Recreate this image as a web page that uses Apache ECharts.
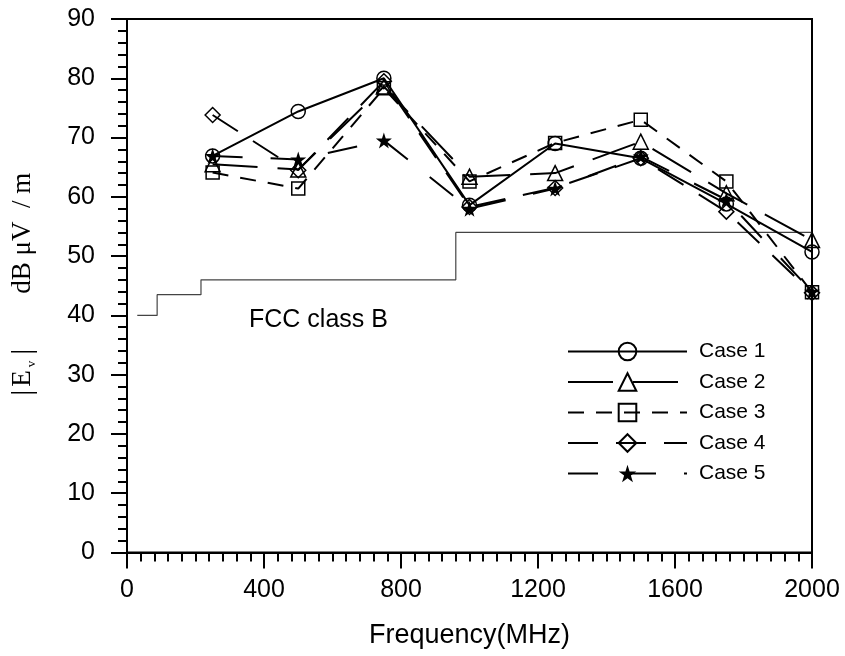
<!DOCTYPE html>
<html>
<head>
<meta charset="utf-8">
<script src="https://cdn.jsdelivr.net/npm/echarts@6/dist/echarts.min.js"></script>
<style>html,body{margin:0;padding:0;background:#fff;}#c{width:845px;height:656px;}</style>
</head>
<body>
<div id="c"></div>
<script>
const freqs = [250, 500, 750, 1000, 1250, 1500, 1750, 2000];
const case1 = [66.9, 74.4, 80.0, 58.6, 69.0, 66.5, 58.8, 50.7];
const case2 = [65.5, 64.6, 78.6, 63.4, 64.0, 69.3, 60.6, 52.7];
const case3 = [64.1, 61.4, 78.3, 62.6, 69.1, 73.0, 62.6, 43.9];
const case4 = [73.8, 64.5, 79.5, 58.3, 61.5, 66.5, 57.5, 43.8];
const case5 = [66.9, 66.3, 69.5, 58.0, 61.4, 66.8, 59.5, 44.0];
const fccFreq = [30, 88, 216, 960, 2000];
const fccLevel = [40, 43.5, 46, 54, 54];
const xTicks = [0, 400, 800, 1200, 1600, 2000];
const yTicks = [0, 10, 20, 30, 40, 50, 60, 70, 80, 90];

const pair = (xs, ys) => xs.map((x, i) => [x, ys[i]]);
const STAR = 'path://M50,0 L61.2,34.5 L97.6,34.5 L68.2,55.9 L79.4,90.5 L50,69.1 L20.6,90.5 L31.8,55.9 L2.4,34.5 L38.8,34.5 Z';

function caseSeries(name, data, symbol, size, dash, filled) {
  return {
    name: name, type: 'line', data: pair(freqs, data),
    symbol: symbol, symbolSize: size, showSymbol: true,
    lineStyle: { color: '#000', width: 2, type: dash },
    itemStyle: { color: filled ? '#000' : 'rgba(255,255,255,0)', borderColor: '#000', borderWidth: filled ? 0 : 1.5 },
    emphasis: { disabled: true }, z: 3
  };
}

const chart = echarts.init(document.getElementById('c'), null, { renderer: 'canvas' });
const font = 'Liberation Sans, Arial, sans-serif';
const serif = 'Liberation Serif, Times New Roman, serif';
chart.setOption({
  animation: false,
  backgroundColor: '#fff',
  grid: { left: 127, right: 33, top: 19, bottom: 103.5, show: true, borderColor: '#000', borderWidth: 2,
    backgroundColor: 'transparent', containLabel: false, outerBoundsMode: 'none' },
  xAxis: {
    type: 'value', min: 0, max: 2000, interval: 400,
    name: 'Frequency(MHz)', nameLocation: 'middle', nameGap: 70,
    nameTextStyle: { fontFamily: font, fontSize: 27, color: '#000' },
    axisLine: { show: true, lineStyle: { color: '#000', width: 2 } },
    axisTick: { show: true, length: 16, lineStyle: { color: '#000', width: 2 } },
    minorTick: { show: true, splitNumber: 10, length: 9, lineStyle: { color: '#000', width: 2 } },
    axisLabel: { fontFamily: font, fontSize: 25, color: '#000', margin: 25,
      formatter: v => xTicks.includes(v) ? String(v) : '' },
    splitLine: { show: false }
  },
  yAxis: {
    type: 'value', min: 0, max: 90, interval: 10,
    name: '{b||}{t|E}{s|v}{b||}{g| }{t|dB μV  / m}', nameLocation: 'middle', nameGap: 89,
    nameTextStyle: {
      color: '#000',
      rich: {
        b: { fontFamily: serif, fontSize: 30, color: '#000', padding: [0, 3, 0, 3] },
        t: { fontFamily: serif, fontSize: 27, color: '#000' },
        s: { fontFamily: serif, fontSize: 13, color: '#000', verticalAlign: 'bottom', padding: [14, 3, 0, 3] },
        g: { width: 52 }
      }
    },
    axisLine: { show: true, lineStyle: { color: '#000', width: 2 } },
    axisTick: { show: true, length: 16, lineStyle: { color: '#000', width: 2 } },
    minorTick: { show: true, splitNumber: 5, length: 9, lineStyle: { color: '#000', width: 2 } },
    axisLabel: { fontFamily: font, fontSize: 25, color: '#000', margin: 32,
      formatter: v => yTicks.includes(v) ? String(v) : '' },
    splitLine: { show: false }
  },
  legend: {
    orient: 'vertical', left: 562, top: 336,
    itemWidth: 119, itemHeight: 22, itemGap: 9.5,
    textStyle: { fontFamily: font, fontSize: 21, color: '#000', padding: [0, 0, 0, 7] },
    data: ['Case 1', 'Case 2', 'Case 3', 'Case 4', 'Case 5']
  },
  graphic: [{
    type: 'text', left: 249, top: 308,
    style: { text: 'FCC class B', fontFamily: font, fontSize: 25, fill: '#000' }
  }],
  series: [
    {
      name: 'FCC', type: 'line', step: 'end', data: pair(fccFreq, fccLevel),
      symbol: 'none', lineStyle: { color: '#444', width: 1.2 }, z: 2, emphasis: { disabled: true }
    },
    caseSeries('Case 1', case1, 'circle', 14, 'solid', false),
    caseSeries('Case 2', case2, 'triangle', 15, [45, 20], false),
    caseSeries('Case 3', case3, 'rect', 13, [16, 12], false),
    caseSeries('Case 4', case4, 'diamond', 15, [30, 18], false),
    caseSeries('Case 5', case5, STAR, 16, [30, 28], true)
  ]
});
</script>
</body>
</html>
